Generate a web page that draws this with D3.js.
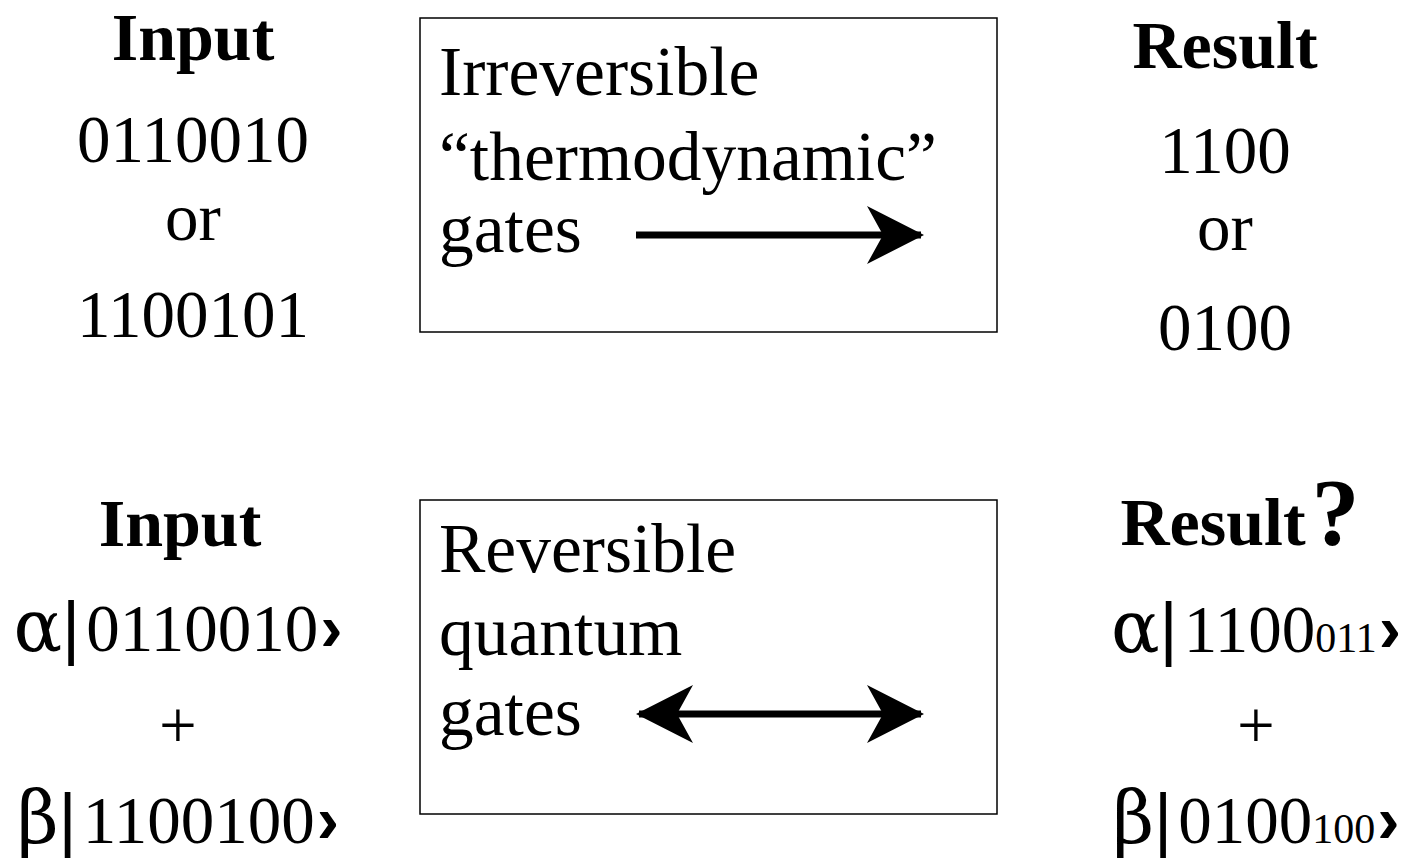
<!DOCTYPE html>
<meta charset="utf-8"/>
<style>
  html, body { margin: 0; padding: 0; background: #fff; }
  text { font-family: "Liberation Serif", "Times New Roman", serif; fill: #000; }
  .bold { font-weight: bold; }
  .box { fill: none; stroke: #000; stroke-width: 1.5px; }
  .shaft { stroke: #000; stroke-width: 7px; }
</style>
<body>
<svg width="1418" height="861"></svg>
</body>
<script src="https://d3js.org/d3.v7.min.js"></script>
<script>

  // text content of the two rows
  var classicalInput = ["0110010", "or", "1100101"]
  var classicalResult = ["1100", "or", "0100"]
  var classicalGate = ["Irreversible", "\u201Cthermodynamic\u201D", "gates"]
  var quantumGate = ["Reversible", "quantum", "gates"]
  // each quantum line: [amplitude, big digits, small digits]
  var quantumInput = [["\u03B1", "0110010", ""], ["+"], ["\u03B2", "1100100", ""]]
  var quantumResult = [["\u03B1", "1100", "011"], ["+"], ["\u03B2", "0100", "100"]]

  var svg = d3.select("svg")
  var fs = 67      // digits
  var boxFs = 69.5 // words inside the boxes

  // arrow heads
  var defs = svg.append("defs")
  defs.append("marker")
    .attr("id", "head")
    .attr("viewBox", "0 -29 57 58")
    .attr("refX", 54)
    .attr("refY", 0)
    .attr("markerUnits", "userSpaceOnUse")
    .attr("markerWidth", 57)
    .attr("markerHeight", 58)
    .attr("orient", "auto-start-reverse")
    .append("path")
    .attr("d", "M0,-29L57,0L0,29L16,0Z")

  function column(x, title, titleY, lines, ys) {
    svg.append("text")
      .attr("class", "bold")
      .attr("x", x).attr("y", titleY)
      .attr("text-anchor", "middle")
      .style("font-size", "68px")
      .text(title)
    svg.selectAll(null)
      .data(lines)
      .enter().append("text")
      .attr("x", x)
      .attr("y", function (d, i) { return ys[i] })
      .attr("text-anchor", "middle")
      .style("font-size", fs + "px")
      .text(function (d) { return d })
  }

  function gateBox(y0, lines, ys, bothEnds, arrowY) {
    svg.append("rect")
      .attr("class", "box")
      .attr("x", 420).attr("y", y0)
      .attr("width", 577).attr("height", 314)
    svg.selectAll(null)
      .data(lines)
      .enter().append("text")
      .attr("x", 439)
      .attr("y", function (d, i) { return ys[i] })
      .style("font-size", boxFs + "px")
      .text(function (d) { return d })
    var l = svg.append("line")
      .attr("class", "shaft")
      .attr("x1", 636).attr("x2", 921)
      .attr("y1", arrowY).attr("y2", arrowY)
      .attr("marker-end", "url(#head)")
    if (bothEnds) l.attr("x1", 639).attr("marker-start", "url(#head)")
  }

  function ketColumn(x, lines, ys) {
    lines.forEach(function (d, i) {
      var t = svg.append("text")
        .attr("x", x).attr("y", ys[i])
        .attr("text-anchor", "middle")
        .style("font-size", fs + "px")
      if (d.length === 1) { t.text(d[0]); return }
      t.append("tspan").style("font-family", "'DejaVu Serif', serif")
        .style("font-size", "72px").text(d[0])
      t.append("tspan").style("font-family", "'Liberation Sans', sans-serif")
        .style("font-size", "70px").text("|")
      t.append("tspan").attr("dx", 6).text(d[1])
      if (d[2]) t.append("tspan").style("font-size", "42px").text(d[2])
      t.append("tspan").style("font-family", "'Liberation Sans', sans-serif")
        .style("font-weight", "bold").attr("dx", 2).text("\u203A")
    })
  }

  // top row: classical
  column(193, "Input", 60, classicalInput, [162, 240, 337])
  column(1225, "Result", 68, classicalResult, [173, 250, 350])
  gateBox(18, classicalGate, [95, 180, 252], false, 235)

  // bottom row: quantum
  svg.append("text").attr("class", "bold")
    .attr("x", 180).attr("y", 546)
    .attr("text-anchor", "middle")
    .style("font-size", "68px").text("Input")
  var res = svg.append("text").attr("class", "bold")
    .attr("x", 1240).attr("y", 545)
    .attr("text-anchor", "middle")
    .style("font-size", "68px")
  res.append("tspan").text("Result")
  res.append("tspan").attr("dx", 6).style("font-size", "96px").text("?")

  gateBox(500, quantumGate, [572, 655, 735], true, 714)
  ketColumn(178, quantumInput, [651, 748, 843])
  ketColumn(1256, quantumResult, [652, 748, 843])

</script>
